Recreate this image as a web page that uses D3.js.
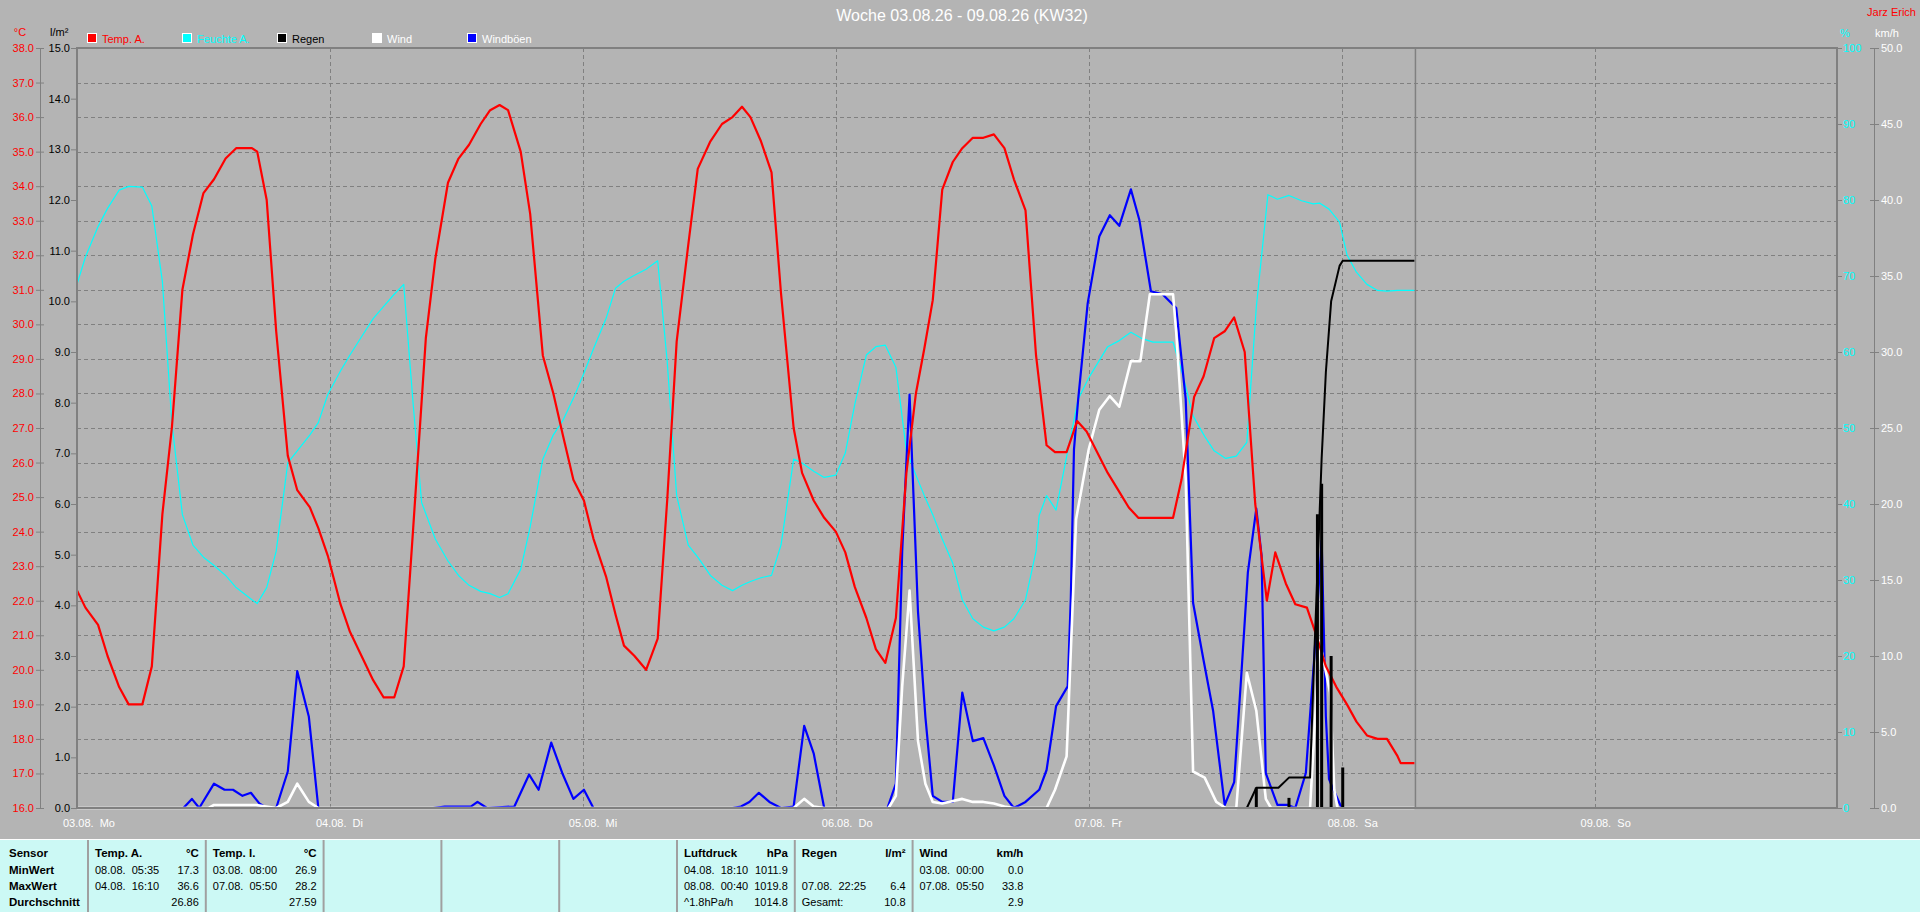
<!DOCTYPE html>
<html>
<head>
<meta charset="utf-8">
<script src="https://d3js.org/d3.v7.min.js"></script>
<style>
  html, body { margin: 0; padding: 0; background: #b4b4b4; overflow: hidden; }
  svg { display: block; font-family: "Liberation Sans", Arial, sans-serif; }
</style>
</head>
<body>
<script>
"use strict";

// all series: [hours since 03.08. 00:00, value]
var tempA = [[0,22.3],[0.8,21.8],[2,21.3],[2.9,20.4],[4,19.5],[4.9,19.0],[6.2,19.0],[7.1,20.1],[8.1,24.5],[9,27.0],[10,31.0],[11,32.6],[12,33.8],[13,34.2],[14.1,34.8],[15.1,35.1],[16.6,35.1],[17.1,35.0],[18,33.6],[18.9,29.8],[20,26.2],[20.9,25.2],[22.1,24.7],[22.9,24.1],[23.8,23.3],[25,21.9],[25.9,21.1],[27,20.4],[28.1,19.7],[29.1,19.2],[30.1,19.2],[31,20.1],[31.9,24.1],[33.1,29.6],[34,31.9],[35.2,34.1],[36.2,34.8],[37.2,35.2],[38.3,35.8],[39.2,36.2],[40.1,36.35],[40.9,36.2],[42.1,35.0],[43,33.2],[44.2,29.1],[45.2,28.0],[46.1,26.8],[47.1,25.5],[48.1,24.9],[49,23.8],[50.2,22.7],[51.1,21.6],[51.9,20.7],[52.9,20.4],[54,20.0],[55.1,20.9],[56,24.9],[56.9,29.5],[58,32.3],[58.9,34.5],[60.1,35.3],[61.2,35.8],[62.2,36.0],[63.1,36.3],[63.9,36.0],[64.9,35.3],[65.9,34.4],[66.8,30.9],[68,27.0],[68.8,25.7],[69.9,24.9],[70.9,24.4],[72,24.0],[72.9,23.4],[73.8,22.4],[74.9,21.5],[75.8,20.6],[76.7,20.2],[77.7,21.5],[78.7,25.7],[79.6,28.0],[80.4,29.3],[81.2,30.7],[82.1,33.9],[83.1,34.7],[84,35.1],[85,35.4],[86,35.4],[87,35.5],[88,35.1],[88.9,34.2],[90,33.3],[91,29.1],[92,26.5],[92.8,26.3],[93.9,26.3],[94.9,27.2],[95.8,26.9],[96.8,26.3],[97.8,25.7],[98.8,25.2],[99.8,24.7],[100.7,24.4],[104,24.4],[104.8,25.5],[106,27.9],[106.9,28.5],[107.9,29.6],[108.9,29.8],[109.8,30.2],[110.8,29.2],[111.8,24.8],[112.9,22.0],[113.7,23.4],[114.7,22.5],[115.6,21.9],[116.7,21.8],[117.6,21.0],[118.5,20.1],[119.5,19.5],[120.5,19.0],[121.4,18.5],[122.4,18.1],[123.4,18.0],[124.3,18.0],[125.3,17.5],[125.6,17.3],[126.9,17.3]];

var humidA = [[0,68.9],[0.8,72.5],[2,76.5],[2.9,78.9],[4,81.3],[4.9,81.8],[6.2,81.7],[7.1,79.2],[8.1,69.3],[9,50.7],[10,38.6],[11,34.6],[12,33.0],[13,31.9],[14.1,30.6],[15.1,29.0],[16.6,27.4],[17.1,26.9],[18,29.0],[18.9,33.8],[20,45.4],[20.9,47.0],[22.1,49.1],[22.9,50.7],[23.8,54.4],[25,57.5],[25.9,59.6],[27,62.0],[28.1,64.4],[29.1,66.0],[30.1,67.6],[31,68.9],[31.9,53.1],[32.7,40.2],[34,35.4],[35.2,32.5],[36.2,30.6],[37.2,29.3],[38.3,28.5],[39.2,28.2],[40.1,27.7],[40.9,28.2],[42.1,31.4],[43,37.0],[44.2,45.9],[45.2,49.1],[46.1,51.0],[47.1,53.9],[48.1,57.2],[49,60.4],[50.2,64.4],[51.1,68.4],[51.9,69.3],[52.9,70.1],[54,70.9],[55.1,72.0],[56,58.8],[56.9,41.1],[58,34.6],[58.9,33.0],[60.1,30.6],[61.2,29.3],[62.2,28.6],[63.1,29.3],[63.9,29.8],[64.9,30.3],[65.9,30.6],[66.8,34.6],[68,45.9],[68.8,45.4],[69.9,44.3],[70.9,43.5],[72,43.8],[72.9,46.7],[73.8,53.1],[74.9,59.6],[75.8,60.7],[76.7,60.9],[77.7,58.0],[78.7,47.0],[79.6,43.8],[80.4,41.1],[81.2,38.6],[82.1,35.4],[83.1,32.2],[84,27.4],[85,24.9],[86,23.8],[87,23.3],[88,23.8],[88.9,24.9],[90,27.4],[91,33.8],[91.3,38.5],[92,41.1],[92.9,39.2],[93.8,45.5],[95,53.8],[96,56.6],[97.8,60.7],[98.9,61.5],[100,62.6],[101,61.8],[102.1,61.3],[104,61.3],[104.9,57.1],[105.9,51.6],[107,48.9],[107.9,47.0],[109,46.0],[110,46.3],[111,48.1],[111.9,65.9],[113,80.7],[113.9,80.1],[115,80.6],[116.2,79.9],[117.3,79.5],[117.9,79.6],[118.8,78.8],[119.8,77.1],[120.5,72.8],[121.4,70.5],[122.4,68.9],[123.4,68.1],[124.3,68.0],[125.3,68.1],[126.9,68.1]];

var wind = [[0,0],[12.5,0],[13,0.2],[17,0.2],[18.9,0],[20,0.4],[20.9,1.6],[22,0.4],[22.9,0],[68,0],[69,0.6],[69.9,0.1],[70.9,0],[77,0],[77.7,0.8],[78.3,8.0],[79,14.3],[79.8,4.4],[80.5,1.6],[81.2,0.4],[82.1,0.3],[84,0.6],[85,0.4],[86,0.4],[87,0.3],[88,0.1],[88.9,0],[92,0],[92.8,1.2],[93.9,3.4],[94.8,19.0],[96,23.6],[97,26.2],[98,27.1],[98.9,26.4],[100,29.4],[100.9,29.4],[101.8,33.8],[104,33.8],[104.3,31.3],[105.2,21.7],[105.9,2.4],[107,2.0],[108.1,0.4],[109,0],[110,0],[111,8.9],[111.9,6.4],[112.8,0.6],[113.3,0],[117,0],[117.9,11.0],[118.9,7.6],[119.3,1.2],[119.6,0],[126.9,0]];

var gusts = [[0,0],[10.1,0],[10.9,0.6],[11.6,0],[13,1.6],[14,1.2],[14.8,1.2],[15.7,0.8],[16.5,1.0],[17.3,0.3],[18,0],[18.9,0],[20,2.4],[20.9,9.0],[22,6.0],[22.9,0],[33.8,0],[34.9,0.1],[37.4,0.1],[38,0.4],[38.9,0],[41.5,0.1],[42.9,2.2],[43.8,1.2],[45,4.3],[46.1,2.2],[47.1,0.6],[48.1,1.2],[49,0],[62.2,0],[63,0.1],[63.8,0.4],[64.7,1.0],[65.7,0.4],[66.8,0],[68,0.1],[69,5.4],[69.9,3.6],[70.9,0],[76.9,0],[77.7,1.6],[78.3,16.9],[79,27.2],[79.8,12.9],[80.5,6.0],[81.2,0.8],[82.1,0.4],[83.1,0.4],[84,7.6],[85,4.4],[86,4.6],[87,2.8],[88,0.8],[88.9,0],[90,0.4],[91.3,1.2],[92,2.5],[92.9,6.7],[94,8.0],[94.3,13.8],[94.6,23.6],[95,26.9],[95.9,33.2],[97,37.6],[98,39.0],[98.9,38.3],[100,40.7],[100.8,38.7],[101.9,34.0],[103,33.8],[104.3,32.9],[105.2,26.9],[105.9,13.5],[106.9,9.7],[107.8,6.4],[108.9,0.2],[109.8,1.7],[110.5,9.0],[111.1,15.5],[111.9,19.7],[112.4,16.6],[112.8,2.3],[113.9,0.2],[114.9,0.2],[115.6,0],[116.6,2.3],[117.4,9.9],[118.1,17.6],[118.5,6.0],[118.8,1.9],[119.1,1.4],[120,0],[126.9,0]];

var rainTotal = [[0,0],[111,0],[111.9,0.4],[114,0.4],[115,0.6],[117,0.6],[117.4,3.0],[118.1,6.9],[118.5,8.6],[119,10.0],[119.8,10.7],[120.1,10.8],[126.9,10.8]];
var rainRate = [[111.9,0.4],[115,0.2],[117.7,5.8],[118.1,6.4],[119,3.0],[120.1,0.8]];
var rainRateEnd = 120.1;
var nowHour = 127;

var dayLabels = ["03.08.\u00a0 Mo", "04.08.\u00a0 Di", "05.08.\u00a0 Mi", "06.08.\u00a0 Do", "07.08.\u00a0 Fr", "08.08.\u00a0 Sa", "09.08.\u00a0 So"];

var legendNames = ["Temp. A.", "Feuchte A.", "Regen", "Wind", "Windböen"];
var legendColors = ["#ff0000", "#00ffff", "#000000", "#ffffff", "#0000ff"];
var legendTextColors = ["#ff0000", "#00ffff", "#000000", "#ffffff", "#ffffff"];

// statistics table below the chart
var rowNames = ["Sensor", "MinWert", "MaxWert", "Durchschnitt"];
var tableCols = [
  ["Temp. A.", "°C", "08.08.\u00a0 05:35", "17.3", "04.08.\u00a0 16:10", "36.6", "", "26.86"],
  ["Temp. I.", "°C", "03.08.\u00a0 08:00", "26.9", "07.08.\u00a0 05:50", "28.2", "", "27.59"],
  ["", "", "", "", "", "", "", ""],
  ["", "", "", "", "", "", "", ""],
  ["", "", "", "", "", "", "", ""],
  ["Luftdruck", "hPa", "04.08.\u00a0 18:10", "1011.9", "08.08.\u00a0 00:40", "1019.8", "^1.8hPa/h", "1014.8"],
  ["Regen", "l/m²", "", "", "07.08.\u00a0 22:25", "6.4", "Gesamt:", "10.8"],
  ["Wind", "km/h", "03.08.\u00a0 00:00", "0.0", "07.08.\u00a0 05:50", "33.8", "", "2.9"]
];

function draw() {
  var W = 1920, H = 912;
  var left = 77, right = 1837, top = 48, bottom = 808;
  var grid = "#808080";

  var svg = d3.select("body").append("svg").attr("width", W).attr("height", H);
  svg.append("rect").attr("width", W).attr("height", H).attr("fill", "#b4b4b4");

  var x = d3.scaleLinear().domain([0, 167]).range([left, right]);
  var yT = d3.scaleLinear().domain([16, 38]).range([bottom, top]);
  var yR = d3.scaleLinear().domain([0, 15]).range([bottom, top]);
  var yH = d3.scaleLinear().domain([0, 100]).range([bottom, top]);
  var yW = d3.scaleLinear().domain([0, 50]).range([bottom, top]);

  // dashed grid
  svg.append("g").selectAll("line").data(d3.range(17, 38)).join("line")
    .attr("x1", left).attr("x2", right)
    .attr("y1", function(d) { return Math.round(yT(d)) + 0.5; })
    .attr("y2", function(d) { return Math.round(yT(d)) + 0.5; })
    .attr("stroke", grid).attr("stroke-dasharray", "4,3");
  svg.append("g").selectAll("line").data(d3.range(24, 167, 24)).join("line")
    .attr("y1", top).attr("y2", bottom)
    .attr("x1", function(d) { return Math.round(x(d)) + 0.5; })
    .attr("x2", function(d) { return Math.round(x(d)) + 0.5; })
    .attr("stroke", grid).attr("stroke-dasharray", "4,3");

  svg.append("line")
    .attr("x1", x(nowHour)).attr("x2", x(nowHour)).attr("y1", top).attr("y2", bottom)
    .attr("stroke", grid).attr("stroke-width", 1.5);

  // axes
  function styleAxis(g, color) {
    g.select(".domain").remove();
    g.selectAll(".tick line").attr("stroke", grid);
    g.selectAll(".tick text").attr("fill", color).style("font-size", "11px")
      .style("font-family", "Liberation Sans, Arial, sans-serif");
  }
  svg.append("g").attr("transform", "translate(44,0)")
    .call(d3.axisLeft(yT).tickValues(d3.range(16, 39)).tickFormat(d3.format(".1f")).tickSize(8).tickPadding(2))
    .call(styleAxis, "#ff0000");
  svg.append("line").attr("x1", 40.5).attr("x2", 40.5).attr("y1", top).attr("y2", bottom).attr("stroke", grid);
  svg.append("g").attr("transform", "translate(" + left + ",0)")
    .call(d3.axisLeft(yR).tickValues(d3.range(0, 16)).tickFormat(d3.format(".1f")).tickSize(6).tickPadding(1))
    .call(styleAxis, "#000000");
  svg.append("g").attr("transform", "translate(" + right + ",0)")
    .call(d3.axisRight(yH).tickValues(d3.range(0, 101, 10)).tickFormat(d3.format("d")).tickSize(5).tickPadding(1))
    .call(styleAxis, "#00ffff");
  svg.append("g").attr("transform", "translate(1870,0)")
    .call(d3.axisRight(yW).tickValues(d3.range(0, 51, 5)).tickFormat(d3.format(".1f")).tickSize(9).tickPadding(2))
    .call(styleAxis, "#ffffff");
  svg.append("line").attr("x1", 1874.5).attr("x2", 1874.5).attr("y1", top).attr("y2", bottom).attr("stroke", grid);

  // series
  function path(data, y, color, width) {
    svg.append("path").datum(data)
      .attr("d", d3.line().x(function(d) { return x(d[0]); }).y(function(d) { return y(d[1]); }))
      .attr("fill", "none").attr("stroke", color).attr("stroke-width", width)
      .attr("stroke-linejoin", "round");
  }
  path(humidA, yH, "#00ffff", 1.2);
  path(gusts, yW, "#0000ff", 2.2);
  path(wind, yW, "#ffffff", 2.6);
  path(tempA, yT, "#ff0000", 2.2);
  path([[0, 0], [rainRateEnd, 0]], yR, "#000000", 1.5);
  path(rainTotal, yR, "#000000", 2);
  svg.append("g").selectAll("line").data(rainRate).join("line")
    .attr("x1", function(d) { return x(d[0]); }).attr("x2", function(d) { return x(d[0]); })
    .attr("y1", yR(0)).attr("y2", function(d) { return yR(d[1]); })
    .attr("stroke", "#000000").attr("stroke-width", 3);

  // plot frame
  svg.append("rect").attr("x", left).attr("y", top).attr("width", right - left).attr("height", bottom - top)
    .attr("fill", "none").attr("stroke", grid).attr("stroke-width", 2);

  // day labels
  svg.append("g").selectAll("text").data(dayLabels).join("text")
    .attr("x", function(d, i) { return x(i * 24) - 14; }).attr("y", 827)
    .attr("fill", "#ffffff").style("font-size", "11px")
    .text(function(d) { return d; });

  // titles and units
  svg.append("text").attr("x", 962).attr("y", 21).attr("text-anchor", "middle")
    .attr("fill", "#ffffff").style("font-size", "16px").text("Woche 03.08.26 - 09.08.26 (KW32)");
  svg.append("text").attr("x", 1916).attr("y", 16).attr("text-anchor", "end")
    .attr("fill", "#ff0000").style("font-size", "11px").text("Jarz Erich");
  svg.append("text").attr("x", 20).attr("y", 36).attr("text-anchor", "middle")
    .attr("fill", "#ff0000").style("font-size", "11px").text("°C");
  svg.append("text").attr("x", 50).attr("y", 36)
    .attr("fill", "#000000").style("font-size", "11px").text("l/m²");
  svg.append("text").attr("x", 1845).attr("y", 37).attr("text-anchor", "middle")
    .attr("fill", "#00ffff").style("font-size", "11px").text("%");
  svg.append("text").attr("x", 1875).attr("y", 37)
    .attr("fill", "#ffffff").style("font-size", "11px").text("km/h");

  // legend
  var lg = svg.append("g").selectAll("g").data(legendNames).join("g")
    .attr("transform", function(d, i) { return "translate(" + (87 + i * 95) + ",33)"; });
  lg.append("rect").attr("x", 0.5).attr("y", 0.5).attr("width", 9).attr("height", 9)
    .attr("fill", function(d, i) { return legendColors[i]; })
    .attr("stroke", "#ffffff").attr("stroke-width", 1);
  lg.append("text").attr("x", 15).attr("y", 9.5)
    .attr("fill", function(d, i) { return legendTextColors[i]; })
    .style("font-size", "11px").text(function(d) { return d; });

  // statistics table
  var ty = 839, colW = 117.8, col0 = 88;
  var rowY = [857, 874, 890, 906];
  svg.append("rect").attr("x", 0).attr("y", ty).attr("width", W).attr("height", H - ty).attr("fill", "#ccf9f5");
  svg.append("line").attr("x1", 0).attr("x2", W).attr("y1", ty + 0.5).attr("y2", ty + 0.5).attr("stroke", "#ffffff");
  svg.append("g").selectAll("line").data(d3.range(0, 8)).join("line")
    .attr("x1", function(i) { return col0 + i * colW; }).attr("x2", function(i) { return col0 + i * colW; })
    .attr("y1", ty + 1).attr("y2", H)
    .attr("stroke", "#a0a0a0").attr("stroke-width", 2);

  svg.append("g").selectAll("text").data(rowNames).join("text")
    .attr("x", 9).attr("y", function(d, i) { return rowY[i]; })
    .attr("fill", "#000000").style("font-size", "11.5px").style("font-weight", "bold")
    .text(function(d) { return d; });

  tableCols.forEach(function(col, c) {
    var lx = col0 + c * colW + 7, rx = col0 + (c + 1) * colW - 7;
    for (var r = 0; r < 4; r++) {
      var bold = r === 0;
      svg.append("text").attr("x", lx).attr("y", rowY[r]).attr("fill", "#000000")
        .style("font-size", bold ? "11.5px" : "11px").style("font-weight", bold ? "bold" : "normal")
        .text(col[r * 2]);
      svg.append("text").attr("x", rx).attr("y", rowY[r]).attr("text-anchor", "end").attr("fill", "#000000")
        .style("font-size", bold ? "11.5px" : "11px").style("font-weight", bold ? "bold" : "normal")
        .text(col[r * 2 + 1]);
    }
  });
}

draw();
</script>
</body>
</html>
